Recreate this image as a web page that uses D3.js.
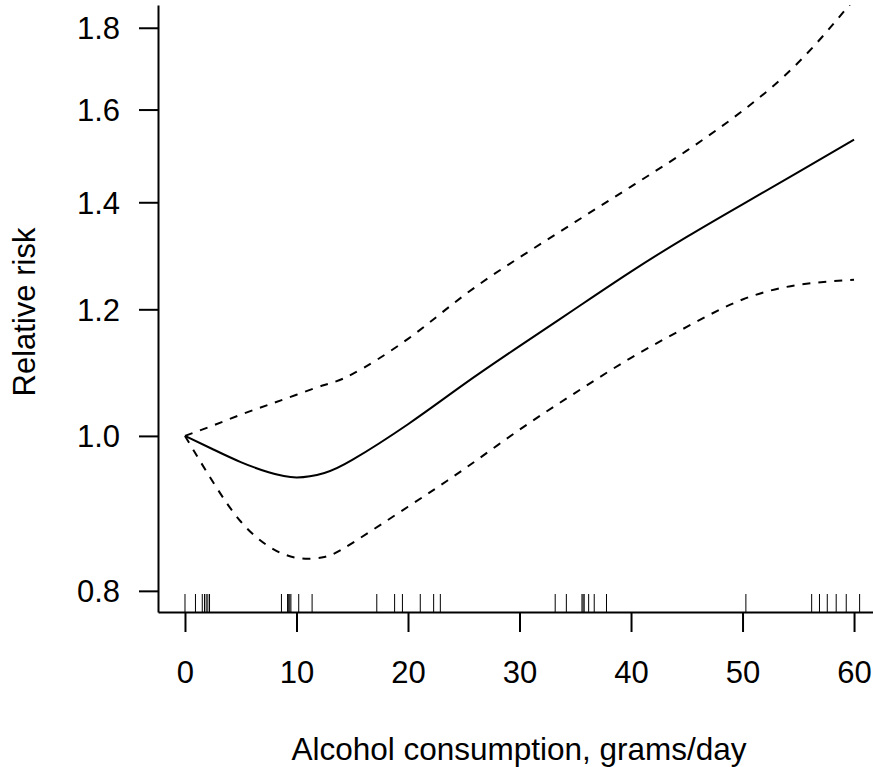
<!DOCTYPE html>
<html>
<head>
<meta charset="utf-8">
<script src="https://cdn.jsdelivr.net/npm/d3@7"></script>
<style>
  body { margin: 0; background: #fff; }
  svg { display: block; font-family: "Liberation Sans", Arial, sans-serif; }
  .axis path, .axis line { stroke: #000; stroke-width: 2px; }
  .axis text { font-size: 31px; fill: #000; }
</style>
</head>
<body>
<div id="chart"></div>
<script>
// dose grid (grams/day) and spline fit
const doseGrid = [0, 2.5, 5, 7.5, 10, 12.5, 15, 20, 25, 30, 35, 40, 45, 50, 55, 60];
const rrFit    = [1.0, 0.981, 0.963, 0.949, 0.942, 0.948, 0.966, 1.017, 1.077, 1.138, 1.201, 1.267, 1.332, 1.396, 1.462, 1.532];
const rrUpper  = [1.0, 1.015, 1.031, 1.046, 1.061, 1.076, 1.093, 1.150, 1.224, 1.293, 1.361, 1.432, 1.508, 1.597, 1.712, 1.875];
const rrLower  = [1.0, 0.936, 0.884, 0.853, 0.839, 0.840, 0.857, 0.903, 0.953, 1.009, 1.064, 1.119, 1.170, 1.217, 1.243, 1.252];

// observed exposure levels (rug)
const rugDoses = [0, 0.94, 1.55, 1.75, 1.9, 2.05, 2.2, 8.65, 9.2, 9.3, 9.4, 9.5, 10.2, 11.4,
  17.2, 18.8, 19.5, 21.1, 22.3, 22.9, 33.2, 34.2, 35.6, 35.7, 35.8, 36.2, 36.7, 37.8,
  50.3, 56.2, 56.9, 57.6, 58.4, 59.3, 60.5];

const xTicks = [0, 10, 20, 30, 40, 50, 60];
const yTicks = [0.8, 1.0, 1.2, 1.4, 1.6, 1.8];
const xTitle = "Alcohol consumption, grams/day";
const yTitle = "Relative risk";

const W = 873, H = 767;
const plot = {left: 158, right: 873, top: 5, bottom: 612};

const svg = d3.select("#chart").append("svg")
  .attr("width", W).attr("height", H);

const x = d3.scaleLinear().domain([-2.42, 61.7]).range([plot.left, plot.right]);
const y = d3.scaleLog().domain([0.776, 1.86]).range([plot.bottom, plot.top]);

svg.append("clipPath").attr("id", "clip")
  .append("rect")
  .attr("x", plot.left).attr("y", plot.top)
  .attr("width", plot.right - plot.left).attr("height", plot.bottom - plot.top);

// axes
const gx = svg.append("g").attr("class", "axis")
  .attr("transform", `translate(0,${plot.bottom})`)
  .call(d3.axisBottom(x).tickValues(xTicks).tickSize(20).tickSizeOuter(0).tickFormat(d3.format("d")));
gx.selectAll("text").attr("y", 71).attr("dy", null);

const gy = svg.append("g").attr("class", "axis")
  .attr("transform", `translate(${plot.left},0)`)
  .call(d3.axisLeft(y).tickValues(yTicks).tickSize(19).tickSizeOuter(0).tickFormat(d3.format(".1f")));
gy.selectAll("text").attr("x", -38).attr("dy", "0.35em");

// titles
svg.append("text")
  .attr("x", 519).attr("y", 760)
  .attr("text-anchor", "middle")
  .style("font-size", "31.5px")
  .text(xTitle);

svg.append("text")
  .attr("transform", "translate(35,312) rotate(-90)")
  .attr("text-anchor", "middle")
  .style("font-size", "31px")
  .text(yTitle);

// rug
svg.append("g").selectAll("line")
  .data(rugDoses)
  .join("line")
  .attr("x1", d => x(d)).attr("x2", d => x(d))
  .attr("y1", plot.bottom).attr("y2", plot.bottom - 18)
  .attr("stroke", "#000").attr("stroke-width", 1);

// curves
const line = d3.line()
  .x((d, i) => x(doseGrid[i]))
  .y(d => y(d))
  .curve(d3.curveNatural);

const curves = svg.append("g").attr("clip-path", "url(#clip)");

curves.append("path")
  .attr("d", line(rrFit))
  .attr("fill", "none").attr("stroke", "#000").attr("stroke-width", 2);

[rrUpper, rrLower].forEach(series => {
  curves.append("path")
    .attr("d", line(series))
    .attr("fill", "none").attr("stroke", "#000").attr("stroke-width", 2)
    .attr("stroke-dasharray", "8,8");
});
</script>
</body>
</html>
